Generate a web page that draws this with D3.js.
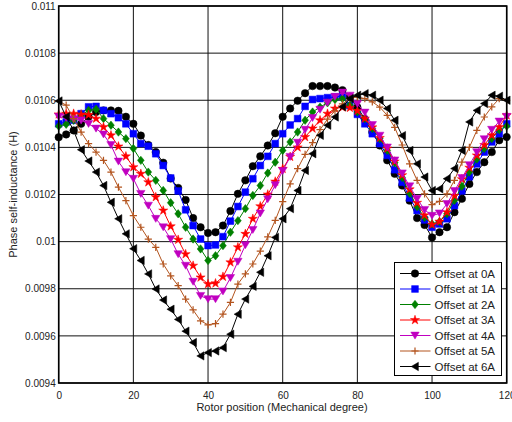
<!DOCTYPE html>
<html>
<head>
<meta charset="utf-8">
<script src="https://cdn.jsdelivr.net/npm/d3@7"></script>
<style>
  html, body { margin: 0; padding: 0; background: #fff; }
  svg { display: block; font-family: "Liberation Sans", Arial, sans-serif; }
</style>
</head>
<body>
<svg id="chart" width="512" height="422"></svg>
<script>
// Rotor position samples (mechanical degrees)
const angles = [0,2,4,6,8,10,12,14,16,18,20,22,24,26,28,30,32,34,36,38,40,
  42,44,46,48,50,52,54,56,58,60,62,64,66,68,70,72,74,76,78,80,
  82,84,86,88,90,92,94,96,98,100,102,104,106,108,110,112,114,116,118,120];

// Phase self-inductance (H) for each offset current
const offset0A = [0.010443,0.010455,0.010472,0.01050,0.01053,0.01055,0.010557,0.010557,0.010555,0.01053,0.01050,
  0.01045,0.01041,0.01038,0.010335,0.010268,0.010228,0.010177,0.01010,0.010061,0.010037,
  0.01004,0.010068,0.01013,0.010203,0.01026,0.01032,0.010362,0.010408,0.01046,0.01053,
  0.010565,0.010598,0.01063,0.01066,0.01066,0.01066,0.010654,0.010643,0.010615,0.01057,
  0.01052,0.010465,0.010408,0.010345,0.010288,0.010238,0.010174,0.01010,0.010071,0.010018,
  0.01004,0.010061,0.010125,0.010182,0.010245,0.010295,0.010337,0.01038,0.01043,0.010444];
const offset1A = [0.01050,0.010508,0.010515,0.010543,0.010572,0.010574,0.010557,0.010543,0.010526,0.01050,0.010458,
  0.010416,0.010405,0.010373,0.010323,0.01027,0.010215,0.010135,0.010068,0.010011,0.009983,
  0.009986,0.010021,0.010087,0.010149,0.01021,0.010267,0.010323,0.010362,0.010416,0.010458,
  0.010495,0.010522,0.010574,0.010603,0.010607,0.010611,0.010614,0.010618,0.010578,0.01054,
  0.01050,0.010458,0.010416,0.010366,0.010305,0.010252,0.010185,0.010132,0.010092,0.010061,
  0.010075,0.010097,0.010153,0.010215,0.010275,0.01033,0.01038,0.010423,0.010458,0.01050];
const offset2A = [0.01049,0.010498,0.010515,0.010535,0.010557,0.010562,0.010522,0.010494,0.010465,0.010437,0.010395,
  0.010345,0.010295,0.01026,0.010217,0.010165,0.010118,0.010061,0.010011,0.009969,0.00992,
  0.00994,0.009983,0.01004,0.010089,0.01014,0.010196,0.010238,0.010291,0.010337,0.010387,
  0.010423,0.010465,0.010515,0.01055,0.010571,0.010589,0.010603,0.010607,0.010579,0.01055,
  0.010522,0.01048,0.010437,0.010387,0.010335,0.010272,0.010205,0.010148,0.010102,0.010075,
  0.010085,0.010118,0.010175,0.010235,0.010295,0.01035,0.010395,0.010437,0.010475,0.01049];
const offset3A = [0.01054,0.010543,0.010543,0.01054,0.010538,0.010522,0.010486,0.010451,0.010404,0.010362,0.010316,
  0.010288,0.010252,0.010189,0.010132,0.010065,0.010008,0.009947,0.009898,0.009848,0.00982,
  0.009823,0.009851,0.009912,0.009976,0.010033,0.010097,0.01015,0.0102,0.010255,0.010309,
  0.01036,0.0104,0.010444,0.01048,0.010515,0.010543,0.010565,0.01057,0.010568,0.010555,
  0.010522,0.010485,0.01044,0.010395,0.01034,0.010282,0.010222,0.010165,0.010112,0.010072,
  0.010085,0.010125,0.010195,0.010265,0.010314,0.010366,0.01041,0.010451,0.010486,0.010536];
const offset4A = [0.01053,0.010525,0.01052,0.010515,0.0105,0.01048,0.010455,0.01041,0.01034,0.010295,0.010267,
  0.010203,0.010153,0.010097,0.010061,0.010011,0.009947,0.009898,0.00983,0.00977,0.009756,
  0.009756,0.009789,0.009846,0.009915,0.009985,0.01005,0.01012,0.01018,0.01024,0.0103,
  0.01036,0.01042,0.010475,0.010525,0.01056,0.01059,0.010615,0.010633,0.01062,0.010585,
  0.010548,0.010495,0.01045,0.0104,0.010345,0.01029,0.010235,0.010182,0.010135,0.01011,
  0.01012,0.01016,0.010215,0.01027,0.010325,0.01038,0.010435,0.010475,0.01051,0.01053];
const offset5A = [0.010597,0.010579,0.010522,0.010465,0.010416,0.01038,0.010345,0.010295,0.010231,0.010174,0.01011,
  0.010061,0.010011,0.009976,0.009905,0.009855,0.009813,0.009756,0.00971,0.009664,0.009647,
  0.009652,0.009692,0.009742,0.00982,0.009863,0.009905,0.00996,0.01002,0.01009,0.01017,
  0.010245,0.01031,0.01037,0.01042,0.010475,0.01052,0.010555,0.010585,0.010607,0.010614,
  0.010607,0.010593,0.010571,0.010536,0.010485,0.01041,0.01033,0.01026,0.010203,0.010157,
  0.010171,0.010203,0.01026,0.010337,0.0104,0.010472,0.010529,0.010572,0.010607,0.0106];
const offset6A = [0.010597,0.01053,0.010472,0.01039,0.010342,0.010295,0.010238,0.010167,0.010097,0.010033,0.00997,
  0.00992,0.009863,0.009799,0.009752,0.009713,0.00967,0.00962,0.009572,0.009515,0.009529,
  0.009536,0.00955,0.009607,0.009692,0.009756,0.00981,0.00987,0.00994,0.010018,0.010097,
  0.01014,0.010217,0.010302,0.010373,0.010451,0.010494,0.010529,0.010572,0.010607,0.010621,
  0.010628,0.010621,0.0106,0.010565,0.010515,0.01045,0.010387,0.01033,0.010274,0.010217,
  0.010224,0.010267,0.01031,0.010387,0.010508,0.010557,0.010586,0.010621,0.010617,0.0106];

const seriesNames = ["Offset at 0A","Offset at 1A","Offset at 2A","Offset at 3A","Offset at 4A","Offset at 5A","Offset at 6A"];
const seriesValues = [offset0A, offset1A, offset2A, offset3A, offset4A, offset5A, offset6A];
const seriesColors = ["#000000","#0000ff","#008000","#ff0000","#c000c0","#b3541e","#000000"];
const seriesMarkers = ["circle","square","diamond","star","triDown","plus","triLeft"];

const xTicks = [0,20,40,60,80,100,120];
const yTicks = [0.0094,0.0096,0.0098,0.01,0.0102,0.0104,0.0106,0.0108,0.011];
const yTickLabels = ["0.0094","0.0096","0.0098","0.01","0.0102","0.0104","0.0106","0.0108","0.011"];

const plot = {left: 58.7, right: 506.7, top: 6, bottom: 383};
const svg = d3.select("#chart");

const x = d3.scaleLinear().domain([0,120]).range([plot.left, plot.right]);
const y = d3.scaleLinear().domain([0.0094,0.011]).range([plot.bottom, plot.top]);

// grid
const grid = svg.append("g");
grid.selectAll("line.gx").data(xTicks).join("line")
  .attr("x1", d => x(d)).attr("x2", d => x(d))
  .attr("y1", plot.top).attr("y2", plot.bottom)
  .attr("stroke", "#111").attr("stroke-width", 1);
grid.selectAll("line.gy").data(yTicks).join("line")
  .attr("x1", plot.left).attr("x2", plot.right)
  .attr("y1", d => y(d)).attr("y2", d => y(d))
  .attr("stroke", "#111").attr("stroke-width", 1);

// axes
const xAxis = d3.axisBottom(x).tickValues(xTicks).tickSize(0).tickPadding(9).tickFormat(d3.format("d"));
const yAxis = d3.axisLeft(y).tickValues(yTicks).tickSize(0).tickPadding(3)
  .tickFormat((d, i) => yTickLabels[i]);
const gx = svg.append("g").attr("transform", `translate(0,${plot.bottom})`).call(xAxis);
const gy = svg.append("g").attr("transform", `translate(${plot.left},0)`).call(yAxis);
[gx, gy].forEach(g => {
  g.select(".domain").remove();
  g.selectAll("text").attr("font-size", 10).attr("fill", "#222")
    .attr("font-family", "'Liberation Sans', Arial, sans-serif");
});

// marker shapes
function markerPath(kind) {
  switch (kind) {
    case "circle": return d3.symbol(d3.symbolCircle, 44)();
    case "square": return d3.symbol(d3.symbolSquare, 46)();
    case "diamond": return "M0,-4.2L3.4,0L0,4.2L-3.4,0Z";
    case "star": return d3.symbol(d3.symbolStar, 26)();
    case "triDown": return "M-4.2,-3.4L4.2,-3.4L0,3.6Z";
    case "triLeft": return "M-3.8,0L3.4,-4.2L3.4,4.2Z";
    case "plus": return "M-3.6,0L3.6,0M0,-3.6L0,3.6";
  }
}

const line = d3.line().x(d => x(d[0])).y(d => y(d[1]));
const plotG = svg.append("g");

seriesValues.forEach((vals, si) => {
  const pts = angles.map((a, i) => [a, vals[i]]);
  const color = seriesColors[si];
  plotG.append("path").datum(pts)
    .attr("d", line).attr("fill", "none")
    .attr("stroke", color).attr("stroke-width", 1);
  const kind = seriesMarkers[si];
  plotG.append("g").selectAll("path").data(pts).join("path")
    .attr("transform", d => `translate(${x(d[0])},${y(d[1])})`)
    .attr("d", markerPath(kind))
    .attr("fill", kind === "plus" ? "none" : color)
    .attr("stroke", color)
    .attr("stroke-width", kind === "plus" ? 1.2 : 0.5);
});

// frame
svg.append("rect")
  .attr("x", plot.left).attr("y", plot.top)
  .attr("width", plot.right - plot.left).attr("height", plot.bottom - plot.top)
  .attr("fill", "none").attr("stroke", "#000").attr("stroke-width", 1.6);

// axis titles
svg.append("text").attr("x", 282).attr("y", 411)
  .attr("text-anchor", "middle").attr("font-size", 11).attr("fill", "#222")
  .text("Rotor position (Mechanical degree)");
svg.append("text")
  .attr("transform", `translate(17,${(plot.top + plot.bottom) / 2}) rotate(-90)`)
  .attr("text-anchor", "middle").attr("font-size", 11).attr("fill", "#222")
  .text("Phase self-inductance (H)");

// legend
const leg = svg.append("g").attr("transform", "translate(394.5,262.5)");
leg.append("rect").attr("width", 107).attr("height", 113)
  .attr("fill", "#fff").attr("stroke", "#000").attr("stroke-width", 1);
seriesNames.forEach((name, i) => {
  const cy = 11 + i * 15.5;
  const row = leg.append("g").attr("transform", `translate(0,${cy})`);
  row.append("line").attr("x1", 5.5).attr("x2", 36).attr("y1", 0).attr("y2", 0)
    .attr("stroke", seriesColors[i]).attr("stroke-width", 1);
  const kind = seriesMarkers[i];
  row.append("path").attr("transform", "translate(20.5,0)")
    .attr("d", markerPath(kind))
    .attr("fill", kind === "plus" ? "none" : seriesColors[i])
    .attr("stroke", seriesColors[i])
    .attr("stroke-width", kind === "plus" ? 1.2 : 0.5);
  row.append("text").attr("x", 40).attr("y", 4.2)
    .attr("font-size", 11.5).attr("fill", "#222").text(name);
});
</script>
</body>
</html>
